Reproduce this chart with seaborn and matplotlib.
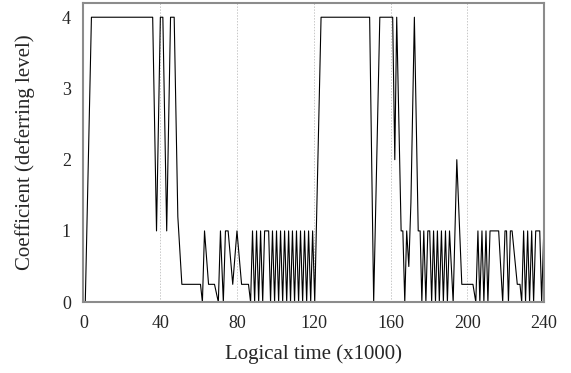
#!/usr/bin/env python3
"""Deferring-level coefficient over logical time (line chart)."""

import matplotlib
matplotlib.use('Agg')
import matplotlib.pyplot as plt
import seaborn as sns
import pandas as pd

# Vertices of the trace (x in units of 1000 logical time)
TIME_K = [
    0, 1.0, 4.2, 36.1, 38.1, 40.1, 41.4, 43.4, 45.4, 47.3, 49.2, 51.3,
    61.0, 62.0, 63.1, 65.2, 68.3, 70.3, 71.4, 72.9, 74.0, 75.4, 77.8, 80.0,
    82.4, 86.0, 87.1, 88.1, 89.2, 90.2, 91.3, 92.3, 93.4, 94.4, 96.5, 97.5,
    98.5, 99.6, 100.6, 101.7, 102.7, 103.8, 104.8, 105.9, 106.9, 107.9, 108.9,
    110.0, 111.0, 112.1, 113.1, 114.2, 115.2, 116.3, 117.3, 118.4, 119.4,
    120.5, 123.8, 149.1, 151.2, 154.4, 161.1, 162.2, 163.2, 165.5, 166.4,
    167.4, 168.4, 169.5, 170.6, 172.4, 174.4, 175.4, 176.3, 177.3, 178.4,
    179.4, 180.4, 181.4, 182.4, 183.4, 184.4, 185.4, 186.5, 187.5, 188.6,
    189.6, 190.7, 192.6, 194.5, 197.1, 202.9, 204.4, 205.5, 206.5, 207.6,
    208.6, 209.7, 210.7, 211.8, 216.3, 218.4, 219.6, 220.4, 221.4, 222.4,
    223.3, 226.0, 227.4, 228.3, 229.3, 230.3, 231.4, 232.4, 233.5, 234.5,
    235.6, 237.7, 238.7, 239.8, 240,
]
LEVEL = [
    0, 0, 4, 4, 1, 4, 4, 1, 4, 4, 1.2, 0.25,
    0.25, 0, 1, 0.25, 0.25, 0, 1, 0, 1, 1, 0.25, 1,
    0.25, 0.25, 0, 1, 0, 1, 0, 1, 0, 1, 1, 0,
    1, 0, 1, 0, 1, 0, 1, 0, 1, 0, 1,
    0, 1, 0, 1, 0, 1, 0, 1, 0, 1,
    0, 4, 4, 0, 4, 4, 2, 4, 1, 1,
    0, 1, 0.5, 1.4, 4, 1, 1, 0, 1, 0,
    1, 1, 0, 1, 0, 1, 0, 1, 0, 1,
    0, 1, 0, 2, 0.25, 0.25, 0, 1, 0, 1,
    0, 1, 0, 1, 1, 0, 1, 1, 0, 1,
    1, 0.25, 0.25, 0, 1, 0, 1, 0, 1, 0,
    1, 1, 0, 1, 1,
]

X_TICKS = [0, 40, 80, 120, 160, 200, 240]
Y_TICKS = [0, 1, 2, 3, 4]

sns.set_style('white')
plt.rcParams['font.family'] = ['Liberation Serif', 'DejaVu Serif']

df = pd.DataFrame({'time': TIME_K, 'level': LEVEL})

fig, ax = plt.subplots(figsize=(5.71, 3.73), dpi=100)
fig.subplots_adjust(left=0.146, right=0.953, top=0.992, bottom=0.19)

# vertical dotted grid only
for gx in X_TICKS[1:-1]:
    ax.axvline(gx, color='#c8c8c8', linestyle=(0, (1.5, 1.5)), linewidth=0.7, zorder=0)

sns.lineplot(data=df, x='time', y='level', ax=ax, color='black',
             linewidth=0.8, estimator=None, sort=False)

ax.set_xlim(0, 240)
ax.set_ylim(0, 4.2)
ax.set_xticks(X_TICKS)
ax.set_yticks(Y_TICKS)
ax.tick_params(axis='both', length=0, labelsize=13, pad=9)
ax.set_xlabel('Logical time (x1000)', fontsize=15, labelpad=9)
ax.set_ylabel('Coefficient (deferring level)', fontsize=15, labelpad=19)

for side in ['left', 'right', 'top', 'bottom']:
    ax.spines[side].set_visible(True)
    ax.spines[side].set_color('#8c8c8c')
    ax.spines[side].set_linewidth(1.5)

plt.savefig('out.png', dpi=100)
plt.close()
